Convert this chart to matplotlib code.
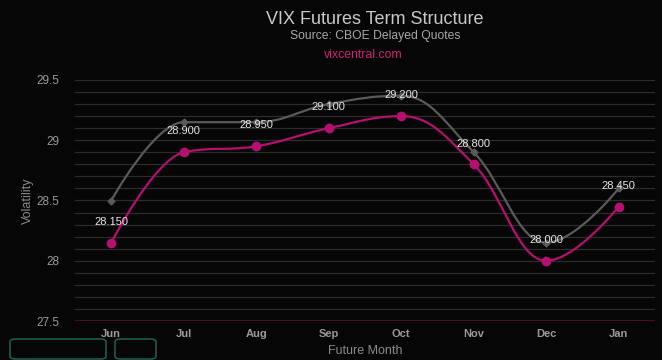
import matplotlib.pyplot as plt
import numpy as np
from matplotlib.path import Path
from matplotlib.patches import PathPatch, FancyBboxPatch
from matplotlib.ticker import FuncFormatter, MultipleLocator

plt.rcParams['font.family'] = ['Liberation Sans', 'DejaVu Sans']

months = ["Jun", "Jul", "Aug", "Sep", "Oct", "Nov", "Dec", "Jan"]
current = [28.15, 28.90, 28.95, 29.10, 29.20, 28.80, 28.00, 28.45]
previous = [28.50, 29.15, 29.15, 29.30, 29.37, 28.90, 28.15, 28.60]

bg = "#060606"
pink = "#b5106f"
grey_line = "#5a5a5a"


# Highcharts-like spline (smoothing 1.5) built as cubic bezier path
def spline_path(xs, ys, smoothing=1.5):
    n = len(xs)
    denom = smoothing + 1
    lc = [None] * n
    rc = [None] * n
    for i in range(1, n - 1):
        px, py = xs[i], ys[i]
        lx, ly = xs[i - 1], ys[i - 1]
        nx, ny = xs[i + 1], ys[i + 1]
        lcx = (smoothing * px + lx) / denom
        lcy = (smoothing * py + ly) / denom
        rcx = (smoothing * px + nx) / denom
        rcy = (smoothing * py + ny) / denom
        if rcx != lcx:
            corr = (rcy - lcy) * (rcx - px) / (rcx - lcx) + py - rcy
            lcy += corr
            rcy += corr
        if lcy > ly and lcy > py:
            lcy = max(ly, py)
            rcy = 2 * py - lcy
        elif lcy < ly and lcy < py:
            lcy = min(ly, py)
            rcy = 2 * py - lcy
        if rcy > ny and rcy > py:
            rcy = max(ny, py)
            lcy = 2 * py - rcy
        elif rcy < ny and rcy < py:
            rcy = min(ny, py)
            lcy = 2 * py - rcy
        lc[i] = (lcx, lcy)
        rc[i] = (rcx, rcy)
    verts = [(xs[0], ys[0])]
    codes = [Path.MOVETO]
    for i in range(1, n):
        c1 = rc[i - 1] if rc[i - 1] else (xs[i - 1], ys[i - 1])
        c2 = lc[i] if lc[i] else (xs[i], ys[i])
        verts += [c1, c2, (xs[i], ys[i])]
        codes += [Path.CURVE4] * 3
    return Path(verts, codes)


fig = plt.figure(figsize=(6.62, 3.6), dpi=100, facecolor=bg)
ax = fig.add_axes([75 / 662, 39 / 360, 580 / 662, 241 / 360], facecolor=bg)

x = np.arange(len(months))
ax.set_xlim(-0.5, len(months) - 0.5)
ax.set_ylim(27.5, 29.5)

# grid
ax.yaxis.set_major_locator(MultipleLocator(0.5))
for v in np.arange(27.6, 29.51, 0.1):
    ax.axhline(v, color="#2c2c2c", lw=0.9, zorder=0)
ax.axhline(27.5, color="#5a0f24", lw=1.2, zorder=1)

for s in ax.spines.values():
    s.set_visible(False)

ax.add_patch(PathPatch(spline_path(x, previous), fill=False, edgecolor=grey_line, lw=1.6, zorder=2))
ax.plot(x, previous, linestyle="none", marker="D", markersize=3.5, color=grey_line, zorder=3)

ax.add_patch(PathPatch(spline_path(x, current), fill=False, edgecolor=pink, lw=1.6, zorder=4))
ax.plot(x, current, linestyle="none", marker="o", markersize=6, color=pink, zorder=5)

for xi, v in zip(x, current):
    ax.annotate(f"{v:.3f}", (xi, v), xytext=(0, 15), textcoords="offset points",
                ha="center", va="center", fontsize=8, color="#e6e6e6", zorder=6)

ax.set_xticks(x)
ax.set_xticklabels(months, fontsize=8, fontweight="bold", color="#9a9a9a")
ax.tick_params(axis="x", length=0, pad=6)
ax.tick_params(axis="y", length=0, pad=11, labelsize=8.5, labelcolor="#9a9a9a")
ax.yaxis.set_major_formatter(FuncFormatter(lambda v, p: f"{v:g}"))

ax.set_xlabel("Future Month", fontsize=9, color="#8a8a8a", labelpad=4)
ax.set_ylabel("Volatility", fontsize=9, color="#8a8a8a", labelpad=2)

fig.text(375 / 662, 1 - 19 / 360, "VIX Futures Term Structure", ha="center", va="center",
         fontsize=13, color="#c8c8c8")
fig.text(375 / 662, 1 - 36 / 360, "Source: CBOE Delayed Quotes", ha="center", va="center",
         fontsize=8.7, color="#a8a8a8")
fig.text(363 / 662, 1 - 55 / 360, "vixcentral.com", ha="center", va="center",
         fontsize=8.8, color="#d0207a")

# export buttons cut off at the bottom edge
for bx, bw in [(10, 96), (115, 41)]:
    fig.patches.append(FancyBboxPatch((bx / 662, 1 / 360), bw / 662, 20 / 360,
                                      boxstyle="round,pad=0,rounding_size=0.008",
                                      transform=fig.transFigure, facecolor=bg,
                                      edgecolor="#1e5a4c", lw=1.2))

fig.savefig("out.png", dpi=100, facecolor=bg)
